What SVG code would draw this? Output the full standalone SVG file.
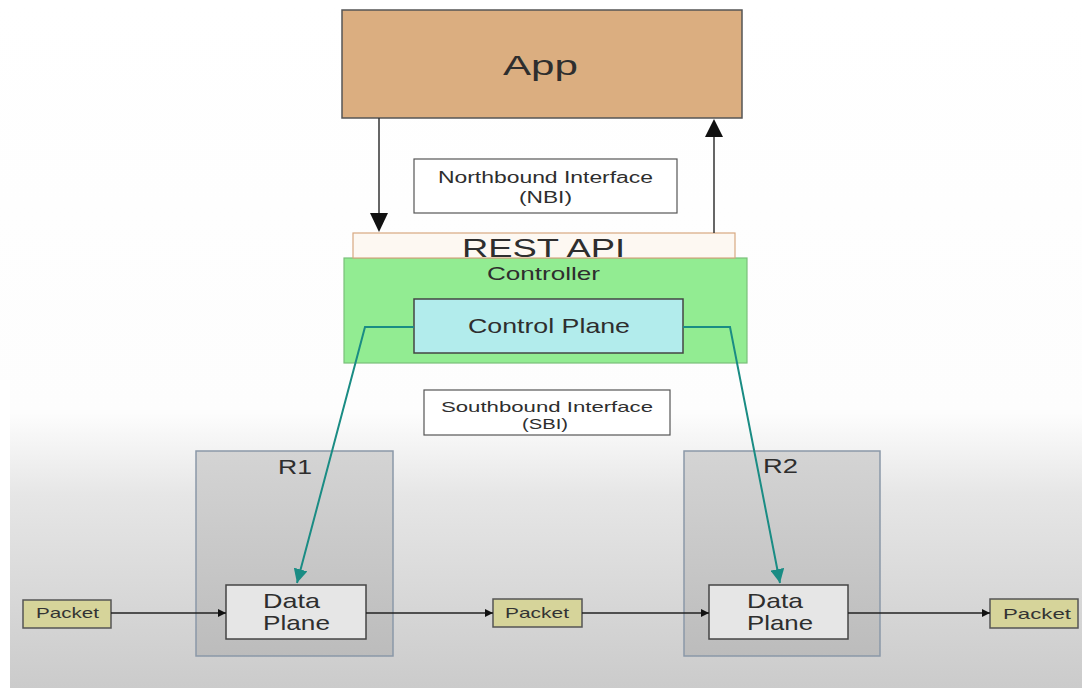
<svg xmlns="http://www.w3.org/2000/svg" width="1082" height="688" viewBox="0 0 1082 688">
<style>
text{font-family:"Liberation Sans",Arial,sans-serif;fill:#2e2e2e;}
.lbl{fill:#fff;stroke:#555;stroke-width:1.2;}
.router{fill:url(#rg);stroke:#8a98a8;stroke-width:1.5;}
.dp{fill:#e6e6e6;stroke:#444;stroke-width:1.5;}
.pkt{fill:#d6d49a;stroke:#555;stroke-width:1.5;}
.pt{font-size:15px;fill:#333;}
.flow{stroke:#222;stroke-width:1.3;fill:none;marker-end:url(#ab);}
.sbi{stroke:#1a8c84;stroke-width:2;fill:none;marker-end:url(#at);}
.nbi{stroke:#333;stroke-width:1.5;fill:none;}
</style>
<defs>
<linearGradient id="bg" x1="0" y1="0" x2="0" y2="1">
<stop offset="0" stop-color="#ffffff"/>
<stop offset="0.6" stop-color="#fdfdfd"/>
<stop offset="0.72" stop-color="#e6e6e6"/>
<stop offset="1" stop-color="#cbcbcb"/>
</linearGradient>
<linearGradient id="rg" x1="0" y1="0" x2="0" y2="1">
<stop offset="0" stop-color="#d4d4d4"/>
<stop offset="1" stop-color="#bcbcbc"/>
</linearGradient>
<marker id="ab" viewBox="0 0 10 10" refX="10" refY="5" markerWidth="8" markerHeight="8" markerUnits="userSpaceOnUse" orient="auto"><path d="M0,0 L10,5 L0,10 z" fill="#111"/></marker>
<marker id="at" viewBox="0 0 10 10" refX="10" refY="5" markerWidth="14" markerHeight="14" markerUnits="userSpaceOnUse" orient="auto"><path d="M0,0 L10,5 L0,10 z" fill="#1a8c84"/></marker>
</defs>
<rect x="0" y="0" width="1082" height="688" fill="url(#bg)"/>
<rect x="0" y="380" width="10" height="308" fill="#ffffff"/>

<g id="app">
<rect x="342" y="10" width="400" height="108" fill="#dbae80" stroke="#555" stroke-width="1.5"/>
<text x="503" y="75" font-size="28" textLength="75" lengthAdjust="spacingAndGlyphs" fill="#2a1e14">App</text>
</g>

<g id="nbi">
<rect class="lbl" x="414" y="159" width="263" height="54"/>
<text x="438" y="183" font-size="16" textLength="215" lengthAdjust="spacingAndGlyphs">Northbound Interface</text>
<text x="519" y="203" font-size="16" textLength="53" lengthAdjust="spacingAndGlyphs">(NBI)</text>
</g>

<g id="controller">
<rect x="344" y="258" width="403" height="105" fill="#92ec92" stroke="#7ac07a" stroke-width="1.2"/>
<text x="487" y="280" font-size="18.5" textLength="113" lengthAdjust="spacingAndGlyphs" fill="#1a5a1a">Controller</text>
</g>

<g id="rest-api">
<rect x="353" y="233" width="382" height="25" fill="#fdf8f2" stroke="#d8a880" stroke-width="1.2"/>
<text x="462" y="257" font-size="25" textLength="163" lengthAdjust="spacingAndGlyphs" fill="#222">REST API</text>
</g>

<g id="control-plane">
<rect x="414" y="299" width="269" height="54" fill="#b2ecec" stroke="#444" stroke-width="1.5"/>
<text x="468" y="333" font-size="21" textLength="162" lengthAdjust="spacingAndGlyphs" fill="#1d3d4d">Control Plane</text>
</g>

<g id="sbi">
<rect class="lbl" x="424" y="390" width="246" height="45"/>
<text x="441" y="412" font-size="15" textLength="212" lengthAdjust="spacingAndGlyphs">Southbound Interface</text>
<text x="522" y="429" font-size="15" textLength="46" lengthAdjust="spacingAndGlyphs">(SBI)</text>
</g>

<g id="r1">
<rect class="router" x="196" y="451" width="197" height="205"/>
<text x="278" y="474" font-size="20" textLength="34" lengthAdjust="spacingAndGlyphs">R1</text>
</g>
<g id="r2">
<rect class="router" x="684" y="451" width="196" height="205"/>
<text x="763" y="473" font-size="20" textLength="35" lengthAdjust="spacingAndGlyphs">R2</text>
</g>

<g id="dp1">
<rect class="dp" x="226" y="585" width="140" height="54"/>
<text x="263" y="608" font-size="21" textLength="57" lengthAdjust="spacingAndGlyphs">Data</text>
<text x="263" y="630" font-size="21" textLength="67" lengthAdjust="spacingAndGlyphs">Plane</text>
</g>
<g id="dp2">
<rect class="dp" x="709" y="585" width="139" height="54"/>
<text x="747" y="608" font-size="21" textLength="56" lengthAdjust="spacingAndGlyphs">Data</text>
<text x="747" y="630" font-size="21" textLength="66" lengthAdjust="spacingAndGlyphs">Plane</text>
</g>

<g id="pkt1">
<rect class="pkt" x="23" y="600" width="88" height="28"/>
<text class="pt" x="36" y="618" textLength="63" lengthAdjust="spacingAndGlyphs">Packet</text>
</g>
<g id="pkt2">
<rect class="pkt" x="493" y="599" width="89" height="28"/>
<text class="pt" x="505" y="618" textLength="64" lengthAdjust="spacingAndGlyphs">Packet</text>
</g>
<g id="pkt3">
<rect class="pkt" x="990" y="599" width="88" height="29"/>
<text class="pt" x="1003" y="619" textLength="68" lengthAdjust="spacingAndGlyphs">Packet</text>
</g>

<g id="connectors">
<line class="nbi" x1="379" y1="118" x2="379" y2="215"/>
<path d="M370,213 L388,213 L379,232 z" fill="#111"/>
<line class="nbi" x1="714" y1="233" x2="714" y2="135"/>
<path d="M705,137 L723,137 L714,119 z" fill="#111"/>
<path class="sbi" d="M414,327 L365,327 L297,583"/>
<path class="sbi" d="M683,327 L730,327 L780,583"/>
<line class="flow" x1="111" y1="613" x2="226" y2="613"/>
<line class="flow" x1="366" y1="613" x2="493" y2="613"/>
<line class="flow" x1="582" y1="613" x2="709" y2="613"/>
<line class="flow" x1="848" y1="613" x2="990" y2="613"/>
</g>
</svg>
